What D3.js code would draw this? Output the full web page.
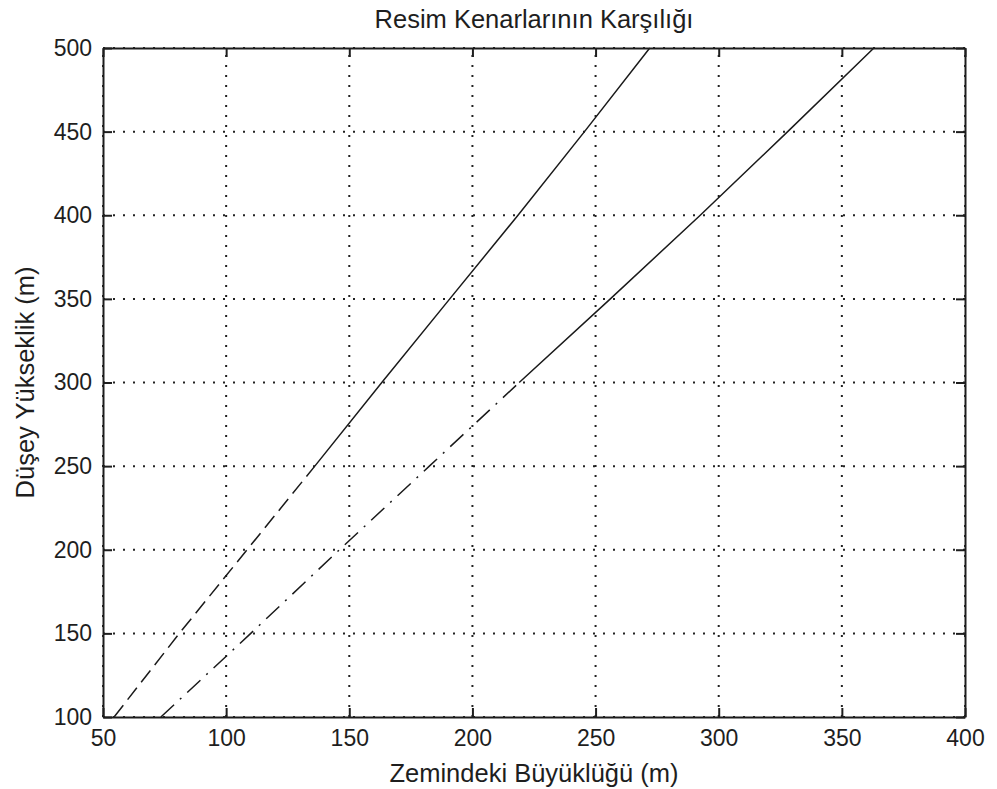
<!DOCTYPE html>
<html>
<head>
<meta charset="utf-8">
<script src="https://cdn.jsdelivr.net/npm/d3@7"></script>
<style>
    body { margin: 0; background: #fff; }
    svg { display: block; font-family: "Liberation Sans", Arial, sans-serif; }
    .axis path, .axis line { stroke: #1e1e1e; stroke-width: 2; }
    .axis text { fill: #1e1e1e; font-size: 23px; font-family: "Liberation Sans", Arial, sans-serif; }
</style>
</head>
<body>
<div id="chart"></div>
<script>
// data: height (m) -> ground size (m)
const heights = [100, 150, 200, 250, 300, 350, 400, 450, 500]
const leftEdge = [54.5, 81, 108.5, 136, 163.2, 190.8, 218.5, 245.5, 272]
const rightEdge = [73.5, 110, 146, 182.5, 219, 256, 292.5, 328, 363]

const xTicks = [50, 100, 150, 200, 250, 300, 350, 400]
const yTicks = [100, 150, 200, 250, 300, 350, 400, 450, 500]

const titleText = "Resim Kenarlarının Karşılığı"
const xLabelText = "Zemindeki Büyüklüğü (m)"
const yLabelText = "Düşey Yükseklik (m)"

function drawChart() {
  // Dimensions
    let dimensions = {
        width: 997,
        height: 789,
        margin: {
            top: 48,
            right: 32,
            bottom: 72,
            left: 103,
        },
    }
    dimensions.boundedWidth = dimensions.width
        - dimensions.margin.left
        - dimensions.margin.right
    dimensions.boundedHeight = dimensions.height
        - dimensions.margin.top
        - dimensions.margin.bottom

  // Canvas
    const svg = d3.select("#chart")
        .append("svg")
            .attr("width", dimensions.width)
            .attr("height", dimensions.height)
    svg.append("rect")
        .attr("width", dimensions.width)
        .attr("height", dimensions.height)
        .attr("fill", "#fff")
    const bounds = svg.append("g")
        .attr("transform", `translate(${dimensions.margin.left},${dimensions.margin.top})`)

  // Scales
    const xScale = d3.scaleLinear()
        .domain([50, 400])
        .range([0, dimensions.boundedWidth])
    const yScale = d3.scaleLinear()
        .domain([100, 500])
        .range([dimensions.boundedHeight, 0])

  // Grid (dotted, matlab style)
    const grid = bounds.append("g")
        .attr("stroke", "#222")
        .attr("stroke-width", 2)
        .attr("stroke-dasharray", "2,8")
    grid.selectAll(".vgrid")
        .data(xTicks)
        .join("line")
            .attr("x1", d => xScale(d))
            .attr("x2", d => xScale(d))
            .attr("y1", dimensions.boundedHeight)
            .attr("y2", 0)
    grid.selectAll(".hgrid")
        .data(yTicks)
        .join("line")
            .attr("y1", d => yScale(d))
            .attr("y2", d => yScale(d))
            .attr("x1", 0)
            .attr("x2", dimensions.boundedWidth)

  // Lines (lower part looks broken in the original, upper part solid)
    const lineGenerator = d3.line()
        .x(d => xScale(d[0]))
        .y(d => yScale(d[1]))

    const leftPts = heights.map((h, i) => [leftEdge[i], h])
    const rightPts = heights.map((h, i) => [rightEdge[i], h])

    const drawPart = (pts, dash) => bounds.append("path")
        .attr("d", lineGenerator(pts))
        .attr("fill", "none")
        .attr("stroke", "#1a1a1a")
        .attr("stroke-width", 1.5)
        .attr("stroke-dasharray", dash)

    drawPart(leftPts.filter(d => d[1] <= 250), "15,7")
    drawPart(leftPts.filter(d => d[1] >= 250), null)
    drawPart(rightPts.filter(d => d[1] <= 300), "18,8,2,8")
    drawPart(rightPts.filter(d => d[1] >= 300), null)

  // Axes (ticks inside on all four sides)
    bounds.append("g")
        .attr("class", "axis")
        .attr("transform", `translate(0,${dimensions.boundedHeight})`)
        .call(d3.axisBottom(xScale)
            .tickValues(xTicks)
            .tickSizeInner(-9)
            .tickSizeOuter(0)
            .tickPadding(13))
    bounds.append("g")
        .attr("class", "axis")
        .call(d3.axisTop(xScale)
            .tickValues(xTicks)
            .tickSizeInner(-9)
            .tickSizeOuter(0)
            .tickFormat(""))
    bounds.append("g")
        .attr("class", "axis")
        .call(d3.axisLeft(yScale)
            .tickValues(yTicks)
            .tickSizeInner(-9)
            .tickSizeOuter(0)
            .tickPadding(11))
    bounds.append("g")
        .attr("class", "axis")
        .attr("transform", `translate(${dimensions.boundedWidth},0)`)
        .call(d3.axisRight(yScale)
            .tickValues(yTicks)
            .tickSizeInner(-9)
            .tickSizeOuter(0)
            .tickFormat(""))

  // Labels
    svg.append("text")
        .attr("x", dimensions.margin.left + dimensions.boundedWidth / 2)
        .attr("y", 28)
        .attr("text-anchor", "middle")
        .attr("fill", "#1e1e1e")
        .style("font-size", "25.5px")
        .text(titleText)

    svg.append("text")
        .attr("x", dimensions.margin.left + dimensions.boundedWidth / 2)
        .attr("y", 782)
        .attr("text-anchor", "middle")
        .attr("fill", "#1e1e1e")
        .style("font-size", "25.5px")
        .text(xLabelText)

    svg.append("text")
        .attr("transform", `translate(34,${dimensions.margin.top + dimensions.boundedHeight / 2}) rotate(-90)`)
        .attr("text-anchor", "middle")
        .attr("fill", "#1e1e1e")
        .style("font-size", "25.5px")
        .text(yLabelText)
}

drawChart()
</script>
</body>
</html>
